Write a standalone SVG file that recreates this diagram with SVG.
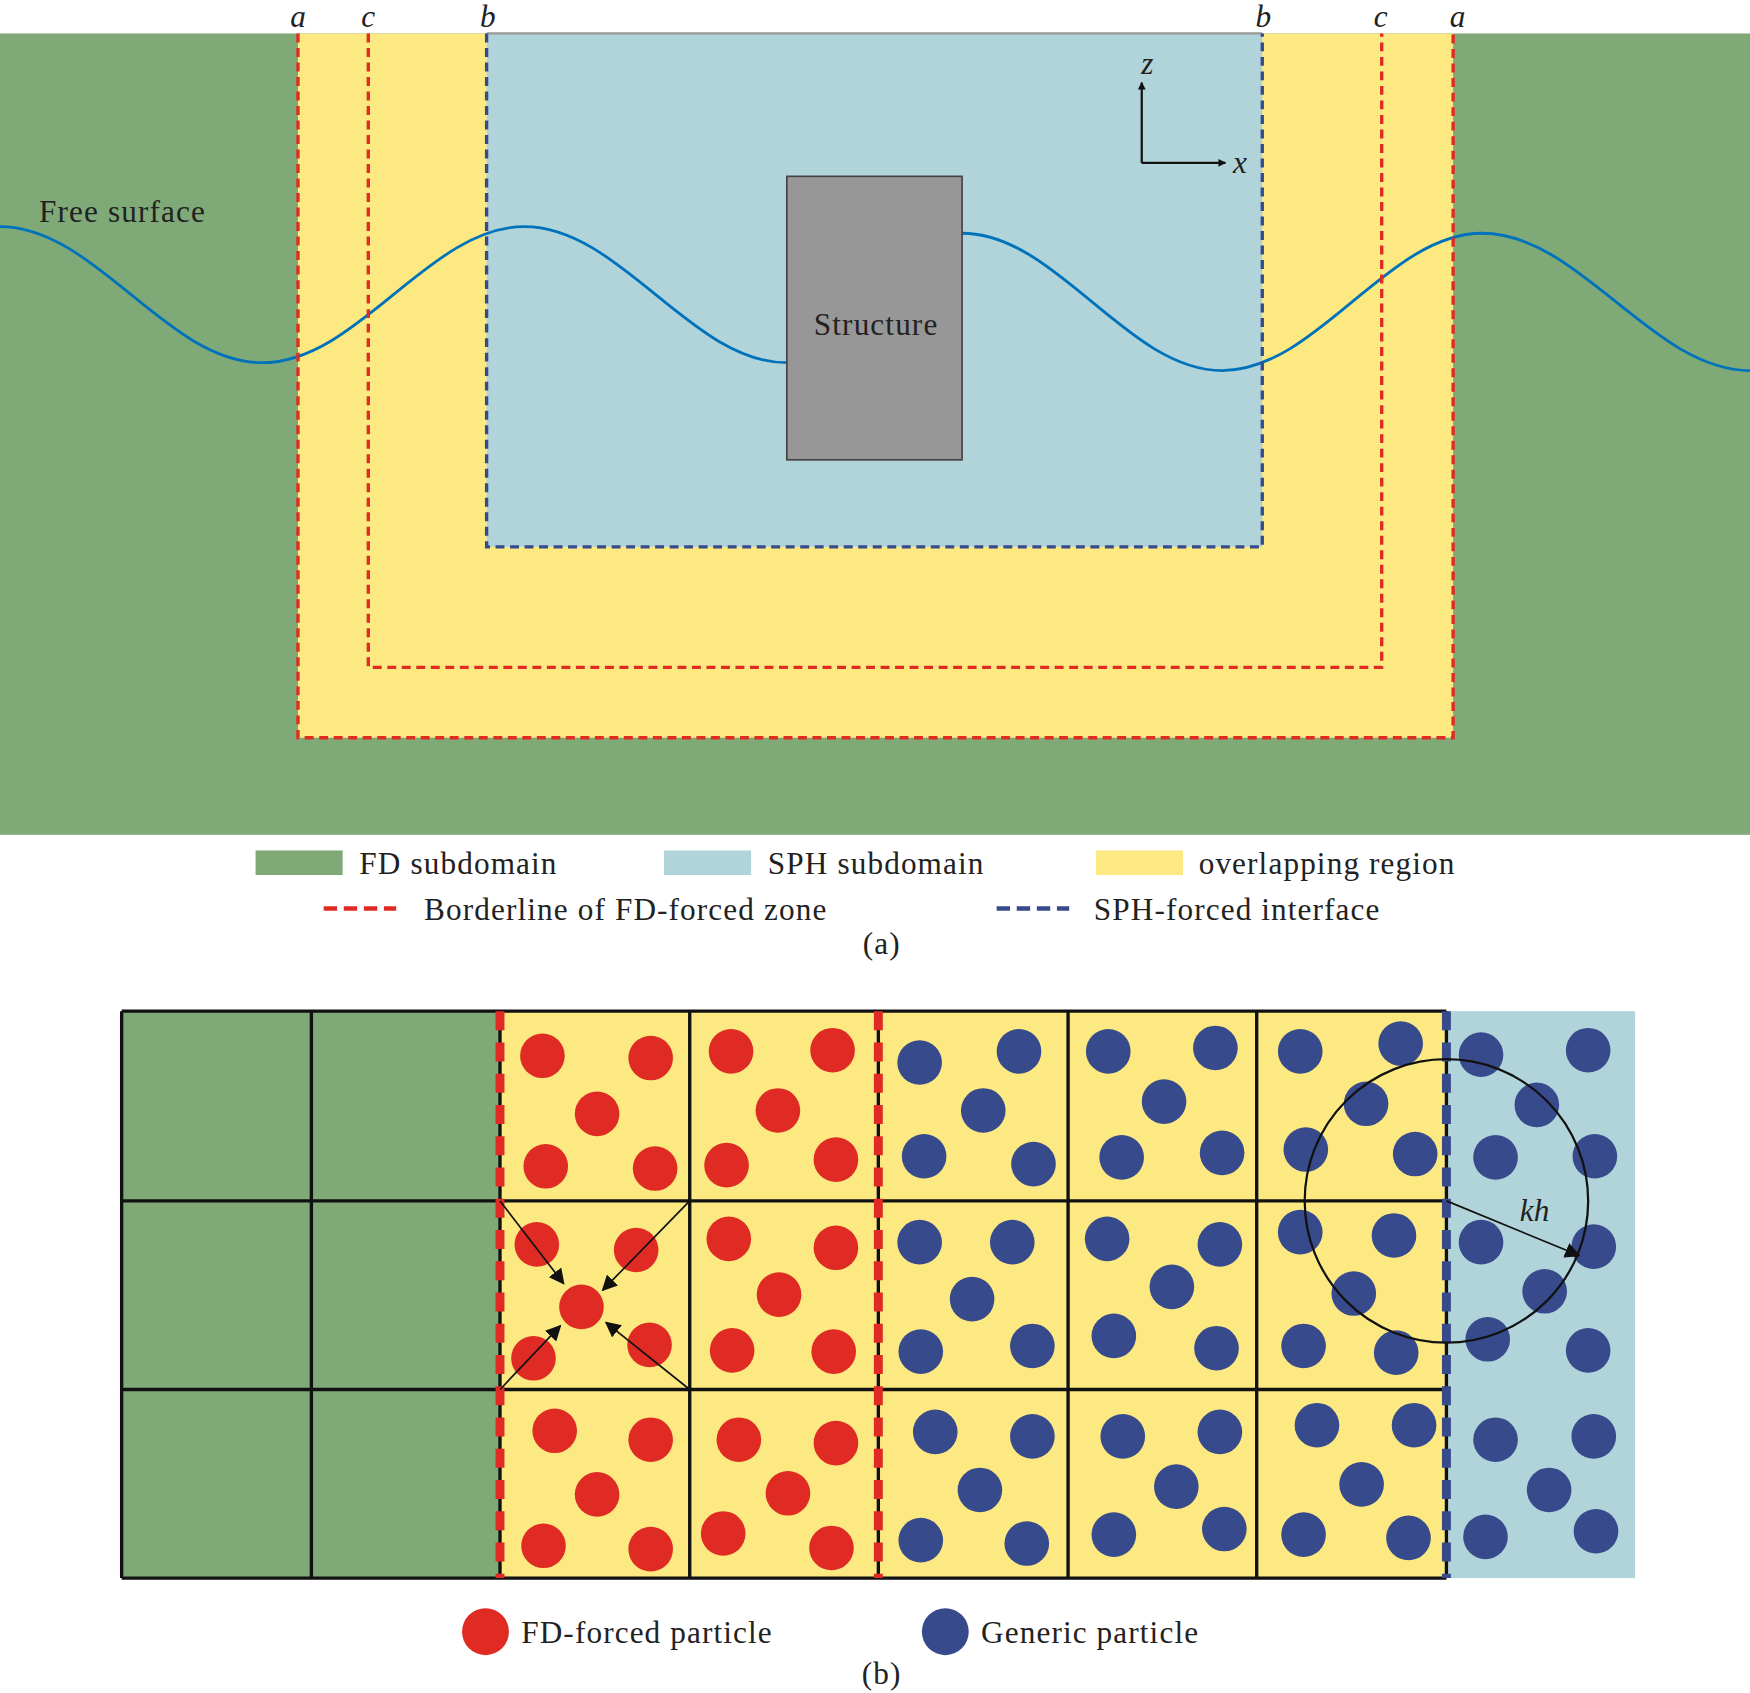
<svg xmlns="http://www.w3.org/2000/svg" width="1750" height="1693" viewBox="0 0 1750 1693">
<defs>
<style>
.t{font-family:"Liberation Serif",serif;font-size:28px;fill:#222;letter-spacing:1px}
.i{font-family:"Liberation Serif",serif;font-style:italic;font-size:28px;fill:#222}
.rd{stroke:#e02b24;stroke-width:3;fill:none;stroke-dasharray:8 5}
.bd{stroke:#374a8c;stroke-width:3;fill:none;stroke-dasharray:8 5}
.g{stroke:#111;stroke-width:3;fill:none}
.r circle{fill:#df2b24}
.b circle{fill:#374a8c}
</style>
<marker id="ah" viewBox="0 0 10 10" refX="9" refY="5" markerWidth="7" markerHeight="7" orient="auto" markerUnits="userSpaceOnUse"><path d="M0,0L10,5L0,10z" fill="#111"/></marker>
<marker id="ah2" viewBox="0 0 10 10" refX="9" refY="5" markerWidth="14" markerHeight="14" orient="auto" markerUnits="userSpaceOnUse"><path d="M0,0L10,5L0,10z" fill="#111"/></marker>
</defs>
<rect width="1750" height="1693" fill="#fff"/>
<g transform="scale(1.11607)">
<g id="panel-a">
<rect x="0" y="30" width="1568" height="718" fill="#7faa78"/>
<rect x="267" y="30" width="1035" height="631" fill="#fde981"/>
<rect x="436" y="30" width="695" height="460" fill="#b0d4d9"/>
<line x1="436" y1="30" x2="1131" y2="30" stroke="#999" stroke-width="2"/>
<g id="wave"><path d="M0,203 C85.6,203 149.4,325 235,325 C320.6,325 384.4,203 470,203 C555.6,203 619.4,325 705,325" stroke="#0072bc" stroke-width="2.5" fill="none"/>
<path d="M862,209 C946.9,209 1010.1,332 1095,332 C1179.9,332 1243.1,209 1328,209 C1415.4,209 1480.6,332 1568,332" stroke="#0072bc" stroke-width="2.5" fill="none"/></g>
<g id="borders">
<path class="rd" d="M267,30V661H1302V30"/>
<path class="rd" d="M330,30V598H1238V30"/>
<path class="bd" d="M436,30V490H1131V30"/>
</g>
<g id="structure"><rect x="705" y="158" width="157" height="254" fill="#979797" stroke="#444" stroke-width="1.5"/>
<text class="t" x="785" y="300" text-anchor="middle">Structure</text></g>
<text class="t" x="35" y="199">Free surface</text>
<g id="axes"><line x1="1023" y1="146" x2="1023" y2="74" stroke="#111" stroke-width="2" marker-end="url(#ah)"/>
<line x1="1023" y1="146" x2="1098" y2="146" stroke="#111" stroke-width="2" marker-end="url(#ah)"/>
<text class="i" x="1028" y="66" text-anchor="middle">z</text><text class="i" x="1111" y="155" text-anchor="middle">x</text></g>
<g id="labels-a">
<text class="i" x="267" y="24" text-anchor="middle">a</text><text class="i" x="330" y="24" text-anchor="middle">c</text><text class="i" x="437" y="24" text-anchor="middle">b</text>
<text class="i" x="1132" y="24" text-anchor="middle">b</text><text class="i" x="1237" y="24" text-anchor="middle">c</text><text class="i" x="1306" y="24" text-anchor="middle">a</text></g>
<g id="legend-a">
<rect x="229" y="762" width="78" height="22" fill="#7faa78"/><text class="t" x="322" y="783">FD subdomain</text>
<rect x="595" y="762" width="78" height="22" fill="#b0d4d9"/><text class="t" x="688" y="783">SPH subdomain</text>
<rect x="982" y="762" width="78" height="22" fill="#fde981"/><text class="t" x="1074" y="783">overlapping region</text>
<line x1="290" y1="814" x2="355" y2="814" stroke="#e02b24" stroke-width="4" stroke-dasharray="12 6"/><text class="t" x="380" y="824">Borderline of FD-forced zone</text>
<line x1="893" y1="814" x2="958" y2="814" stroke="#374a8c" stroke-width="4" stroke-dasharray="12 6"/><text class="t" x="980" y="824">SPH-forced interface</text>
<text class="t" x="790" y="855" text-anchor="middle">(a)</text>
</g>
</g>
<g id="panel-b">
<rect x="109" y="906" width="339" height="508" fill="#7faa78"/>
<rect x="448" y="906" width="848" height="508" fill="#fde981"/>
<rect x="1296" y="906" width="169" height="508" fill="#b0d4d9"/>
<g id="grid" class="g">
<path d="M109,906H1296M109,1076H1296M109,1245H1296M109,1414H1296M109,906V1414M279,906V1414M448,906V1414M618,906V1414M787,906V1414M957,906V1414M1126,906V1414M1296,906V1414" stroke-width="3"/>
</g>
<g id="interfaces">
<line x1="448" y1="906" x2="448" y2="1414" stroke="#e02b24" stroke-width="8" stroke-dasharray="17 11"/>
<line x1="787" y1="906" x2="787" y2="1414" stroke="#e02b24" stroke-width="8" stroke-dasharray="17 11"/>
<line x1="1296" y1="906" x2="1296" y2="1414" stroke="#374a8c" stroke-width="8" stroke-dasharray="17 11"/>
</g>
<g id="fd-particles" class="r">
<circle cx="486" cy="946" r="20"/><circle cx="583" cy="948" r="20"/><circle cx="535" cy="998" r="20"/><circle cx="489" cy="1045" r="20"/><circle cx="587" cy="1047" r="20"/>
<circle cx="655" cy="942" r="20"/><circle cx="746" cy="941" r="20"/><circle cx="697" cy="995" r="20"/><circle cx="651" cy="1044" r="20"/><circle cx="749" cy="1039" r="20"/>
<circle cx="481" cy="1115" r="20"/><circle cx="570" cy="1120" r="20"/><circle cx="521" cy="1171" r="20"/><circle cx="478" cy="1217" r="20"/><circle cx="582" cy="1205" r="20"/>
<circle cx="653" cy="1110" r="20"/><circle cx="749" cy="1118" r="20"/><circle cx="698" cy="1160" r="20"/><circle cx="656" cy="1210" r="20"/><circle cx="747" cy="1211" r="20"/>
<circle cx="497" cy="1282" r="20"/><circle cx="583" cy="1290" r="20"/><circle cx="535" cy="1339" r="20"/><circle cx="487" cy="1385" r="20"/><circle cx="583" cy="1388" r="20"/>
<circle cx="662" cy="1290" r="20"/><circle cx="749" cy="1293" r="20"/><circle cx="706" cy="1338" r="20"/><circle cx="648" cy="1374" r="20"/><circle cx="745" cy="1387" r="20"/>
</g>
<g id="generic-particles" class="b">
<circle cx="824" cy="952" r="20"/><circle cx="913" cy="942" r="20"/><circle cx="881" cy="995" r="20"/><circle cx="828" cy="1036" r="20"/><circle cx="926" cy="1043" r="20"/>
<circle cx="993" cy="942" r="20"/><circle cx="1089" cy="939" r="20"/><circle cx="1043" cy="987" r="20"/><circle cx="1005" cy="1037" r="20"/><circle cx="1095" cy="1033" r="20"/>
<circle cx="1165" cy="942" r="20"/><circle cx="1255" cy="935" r="20"/><circle cx="1224" cy="989" r="20"/><circle cx="1170" cy="1030" r="20"/><circle cx="1268" cy="1034" r="20"/>
<circle cx="1327" cy="945" r="20"/><circle cx="1423" cy="941" r="20"/><circle cx="1377" cy="990" r="20"/><circle cx="1340" cy="1037" r="20"/><circle cx="1429" cy="1036" r="20"/>
<circle cx="824" cy="1113" r="20"/><circle cx="907" cy="1113" r="20"/><circle cx="871" cy="1164" r="20"/><circle cx="825" cy="1211" r="20"/><circle cx="925" cy="1206" r="20"/>
<circle cx="992" cy="1110" r="20"/><circle cx="1093" cy="1115" r="20"/><circle cx="1050" cy="1153" r="20"/><circle cx="998" cy="1197" r="20"/><circle cx="1090" cy="1208" r="20"/>
<circle cx="1165" cy="1104" r="20"/><circle cx="1249" cy="1107" r="20"/><circle cx="1213" cy="1159" r="20"/><circle cx="1168" cy="1206" r="20"/><circle cx="1251" cy="1212" r="20"/>
<circle cx="1327" cy="1113" r="20"/><circle cx="1428" cy="1117" r="20"/><circle cx="1384" cy="1157" r="20"/><circle cx="1333" cy="1200" r="20"/><circle cx="1423" cy="1210" r="20"/>
<circle cx="838" cy="1283" r="20"/><circle cx="925" cy="1287" r="20"/><circle cx="878" cy="1335" r="20"/><circle cx="825" cy="1380" r="20"/><circle cx="920" cy="1383" r="20"/>
<circle cx="1006" cy="1287" r="20"/><circle cx="1093" cy="1283" r="20"/><circle cx="1054" cy="1332" r="20"/><circle cx="998" cy="1375" r="20"/><circle cx="1097" cy="1370" r="20"/>
<circle cx="1180" cy="1277" r="20"/><circle cx="1267" cy="1277" r="20"/><circle cx="1220" cy="1330" r="20"/><circle cx="1168" cy="1375" r="20"/><circle cx="1262" cy="1378" r="20"/>
<circle cx="1340" cy="1290" r="20"/><circle cx="1428" cy="1287" r="20"/><circle cx="1388" cy="1335" r="20"/><circle cx="1331" cy="1377" r="20"/><circle cx="1430" cy="1372" r="20"/>
</g>
<g id="connectors" stroke="#111" stroke-width="1.5">
<line x1="448" y1="1076" x2="505" y2="1150" marker-end="url(#ah2)"/>
<line x1="618" y1="1076" x2="540" y2="1156" marker-end="url(#ah2)"/>
<line x1="448" y1="1245" x2="502" y2="1188" marker-end="url(#ah2)"/>
<line x1="618" y1="1245" x2="543" y2="1185" marker-end="url(#ah2)"/>
<line x1="1296" y1="1076" x2="1415" y2="1125" marker-end="url(#ah2)"/>
</g>
<circle id="kernel" cx="1296" cy="1076" r="127" fill="none" stroke="#111" stroke-width="2"/>
<text class="i" x="1375" y="1094" font-size="40" text-anchor="middle">kh</text>
<g id="legend-b">
<circle cx="435" cy="1462" r="21" fill="#df2b24"/><text class="t" x="467" y="1472">FD-forced particle</text>
<circle cx="847" cy="1462" r="21" fill="#374a8c"/><text class="t" x="879" y="1472">Generic particle</text>
<text class="t" x="790" y="1509" text-anchor="middle">(b)</text>
</g>
</g>
</g>
</svg>
